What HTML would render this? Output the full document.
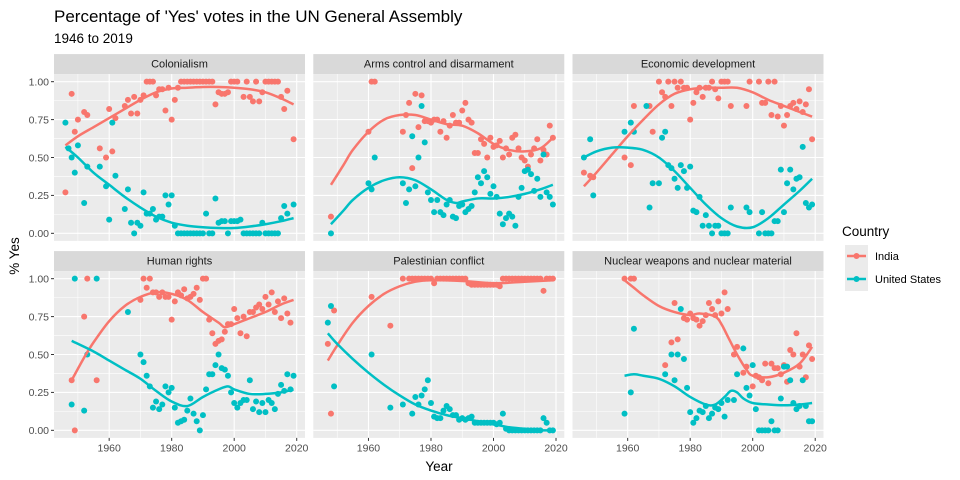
<!DOCTYPE html>
<html><head><meta charset="utf-8"><style>
body{margin:0;background:#fff;}
svg{display:block;font-family:"Liberation Sans",Arial,sans-serif;}
</style></head><body>
<svg id="chart" width="960" height="480" viewBox="0 0 960 480" xmlns="http://www.w3.org/2000/svg">
<text x="54" y="22" font-size="17" fill="#000">Percentage of 'Yes' votes in the UN General Assembly</text>
<text x="54" y="43" font-size="13.5" fill="#000">1946 to 2019</text>
<text transform="translate(19,256) rotate(-90)" text-anchor="middle" font-size="13.5" fill="#000">% Yes</text>
<text x="439" y="471" text-anchor="middle" font-size="13.5" fill="#000">Year</text>
<g id="panels"></g>
<g>
<text x="842" y="236" font-size="13.5" fill="#000">Country</text>
<rect x="845" y="245" width="23" height="46" fill="#ebebeb"/>
<g>
<line x1="847" y1="256" x2="866" y2="256" stroke="#F8766D" stroke-width="2.5"/><circle cx="856.5" cy="256" r="3" fill="#F8766D"/>
<text x="875" y="260" font-size="11" fill="#000">India</text></g>
<g>
<line x1="847" y1="279" x2="866" y2="279" stroke="#00BFC4" stroke-width="2.5"/><circle cx="856.5" cy="279" r="3" fill="#00BFC4"/>
<text x="875" y="283" font-size="11" fill="#000">United States</text></g>
</g>
</svg>
<script>
const panelTitles = ["Colonialism","Arms control and disarmament","Economic development","Human rights","Palestinian conflict","Nuclear weapons and nuclear material"];
const xTicks = [1960,1980,2000,2020];
const yTicks = [0,0.25,0.5,0.75,1];
const yTickLabels = ["0.00","0.25","0.50","0.75","1.00"];

const colIndia = [[1946,0.27],[1948,0.92],[1949,0.67],[1950,0.75],[1952,0.80],[1953,0.78],[1957,0.56],[1959,0.50],[1960,0.82],[1961,0.54],[1962,0.76],[1965,0.84],[1966,0.88],[1967,0.79],[1968,0.90],[1969,0.79],[1970,0.88],[1971,0.91],[1972,1],[1973,1],[1974,1],[1975,0.91],[1976,0.95],[1977,0.95],[1978,0.81],[1979,0.96],[1980,0.75],[1981,0.88],[1982,0.96],[1983,1],[1984,1],[1985,1],[1986,1],[1987,1],[1988,1],[1989,1],[1990,1],[1991,1],[1992,1],[1993,1],[1994,0.85],[1995,0.93],[1996,0.92],[1997,0.92],[1998,0.93],[1999,1],[2000,1],[2001,1],[2003,0.90],[2004,1],[2005,0.90],[2006,0.87],[2007,1],[2008,0.87],[2009,0.93],[2010,1],[2011,1],[2012,1],[2013,1],[2014,1],[2015,0.90],[2016,0.82],[2017,0.94],[2019,0.62]];
const colUS = [[1946,0.73],[1947,0.56],[1948,0.50],[1949,0.40],[1950,0.58],[1952,0.20],[1953,0.44],[1957,0.44],[1959,0.31],[1960,0.09],[1961,0.73],[1962,0.38],[1965,0.16],[1966,0.29],[1967,0.07],[1968,0],[1969,0.07],[1970,0.05],[1971,0.27],[1972,0.13],[1973,0.13],[1974,0.16],[1975,0.09],[1976,0.11],[1977,0.11],[1978,0.25],[1979,0.19],[1980,0.25],[1981,0.05],[1982,0],[1983,0],[1984,0],[1985,0],[1986,0],[1987,0],[1988,0],[1989,0],[1990,0],[1991,0.13],[1992,0],[1993,0],[1994,0.23],[1995,0.07],[1996,0.08],[1997,0.08],[1998,0],[1999,0.08],[2000,0.08],[2001,0.08],[2002,0.09],[2003,0],[2004,0],[2005,0],[2006,0],[2007,0],[2008,0],[2009,0.07],[2010,0],[2011,0],[2012,0],[2013,0],[2014,0],[2015,0.10],[2016,0.18],[2017,0.13],[2019,0.19]];
const colIndiaSmooth = [[1946,0.58],[1950,0.64],[1955,0.70],[1960,0.76],[1965,0.82],[1970,0.88],[1975,0.93],[1980,0.955],[1985,0.96],[1990,0.965],[1995,0.965],[2000,0.96],[2005,0.95],[2010,0.93],[2015,0.89],[2019,0.85]];
const colUSSmooth = [[1946,0.57],[1950,0.50],[1955,0.40],[1960,0.32],[1965,0.24],[1970,0.17],[1975,0.11],[1980,0.07],[1985,0.05],[1990,0.04],[1995,0.035],[2000,0.035],[2005,0.045],[2010,0.06],[2015,0.08],[2019,0.10]];

const armsIndia = [[1948,0.11],[1960,0.67],[1961,1],[1962,1],[1971,0.67],[1972,0.78],[1973,0.86],[1974,0.43],[1975,0.92],[1976,0.70],[1977,0.91],[1978,0.74],[1979,0.74],[1980,0.73],[1981,0.75],[1982,0.75],[1983,0.67],[1984,0.74],[1985,0.63],[1986,0.71],[1987,0.78],[1988,0.73],[1989,0.73],[1990,0.81],[1991,0.86],[1992,0.75],[1993,0.73],[1994,0.53],[1995,0.53],[1996,0.62],[1997,0.59],[1998,0.50],[1999,0.63],[2000,0.57],[2001,0.58],[2002,0.61],[2003,0.50],[2004,0.56],[2005,0.52],[2006,0.63],[2007,0.65],[2008,0.56],[2009,0.50],[2010,0.48],[2011,0.44],[2012,0.52],[2013,0.56],[2014,0.62],[2015,0.48],[2016,0.55],[2017,0.52],[2018,0.71],[2019,0.63]];
const armsUS = [[1948,0],[1960,0.33],[1961,0.29],[1962,0.50],[1971,0.33],[1972,0.20],[1973,0.29],[1974,0.64],[1975,0.31],[1976,0.50],[1977,0.84],[1978,0.60],[1979,0.27],[1980,0.22],[1981,0.14],[1982,0.22],[1983,0.14],[1984,0.12],[1985,0.19],[1986,0.22],[1987,0.11],[1988,0.10],[1989,0.18],[1990,0.19],[1991,0.14],[1992,0.16],[1993,0.18],[1994,0.27],[1995,0.37],[1996,0.33],[1997,0.41],[1998,0.37],[1999,0.26],[2000,0.31],[2001,0.24],[2002,0.13],[2003,0.06],[2004,0.10],[2005,0.13],[2006,0.11],[2007,0.05],[2008,0.24],[2009,0.30],[2010,0.41],[2011,0.42],[2012,0.39],[2013,0.28],[2014,0.36],[2015,0.24],[2016,0.52],[2017,0.27],[2018,0.24],[2019,0.19]];
const armsIndiaSmooth = [[1948,0.32],[1952,0.45],[1955,0.55],[1960,0.67],[1965,0.75],[1970,0.78],[1975,0.78],[1980,0.75],[1985,0.72],[1990,0.71],[1995,0.66],[2000,0.59],[2005,0.55],[2010,0.54],[2015,0.56],[2019,0.63]];
const armsUSSmooth = [[1948,0.06],[1952,0.15],[1955,0.22],[1960,0.30],[1965,0.35],[1970,0.37],[1975,0.35],[1980,0.29],[1985,0.22],[1988,0.20],[1990,0.21],[1995,0.23],[2000,0.23],[2005,0.24],[2010,0.26],[2015,0.29],[2019,0.32]];

const econIndia = [[1946,0.40],[1948,0.38],[1949,0.37],[1959,0.50],[1961,0.45],[1962,0.84],[1967,0.84],[1968,0.67],[1970,1],[1971,0.93],[1972,0.90],[1973,1],[1974,0.84],[1975,1],[1976,0.96],[1977,1],[1978,0.96],[1979,0.96],[1980,0.75],[1981,0.86],[1982,0.93],[1983,0.96],[1984,0.90],[1985,0.96],[1986,0.96],[1987,1],[1988,0.95],[1989,0.89],[1990,1],[1991,1],[1992,1],[1993,0.84],[1998,0.84],[1999,1],[2002,1],[2003,0.86],[2004,0.86],[2005,1],[2006,0.78],[2007,1],[2008,0.77],[2009,0.84],[2010,0.71],[2011,0.78],[2012,0.84],[2013,0.86],[2014,0.82],[2015,0.87],[2016,0.80],[2017,0.85],[2018,0.95],[2019,0.62]];
const econUS = [[1946,0.50],[1948,0.62],[1949,0.25],[1959,0.67],[1961,0.73],[1962,0.67],[1966,0.84],[1967,0.17],[1968,0.33],[1970,0.33],[1971,0.63],[1972,0.67],[1973,0.45],[1974,0.43],[1975,0.36],[1976,0.30],[1977,0.45],[1978,0.41],[1979,0.30],[1980,0.44],[1981,0.15],[1982,0.14],[1983,0.24],[1984,0.05],[1985,0.12],[1986,0.05],[1987,0],[1988,0.05],[1989,0.05],[1990,0],[1991,0],[1992,0],[1993,0.17],[1998,0.17],[1999,0.14],[2002,0],[2003,0.14],[2004,0],[2005,0],[2006,0],[2007,0.08],[2008,0.08],[2009,0.42],[2010,0.14],[2011,0.33],[2012,0.42],[2013,0.29],[2014,0.36],[2015,0.37],[2016,0.57],[2017,0.20],[2018,0.17],[2019,0.19]];
const econIndiaSmooth = [[1946,0.31],[1950,0.40],[1955,0.52],[1960,0.64],[1965,0.75],[1970,0.85],[1975,0.92],[1980,0.95],[1985,0.96],[1990,0.96],[1995,0.96],[2000,0.93],[2005,0.88],[2010,0.84],[2015,0.80],[2019,0.77]];
const econUSSmooth = [[1946,0.50],[1950,0.54],[1955,0.565],[1960,0.565],[1965,0.55],[1970,0.50],[1975,0.41],[1980,0.30],[1985,0.19],[1990,0.10],[1995,0.045],[2000,0.04],[2005,0.10],[2010,0.19],[2015,0.28],[2019,0.36]];

const humIndia = [[1948,0.33],[1949,0],[1952,0.75],[1953,1],[1956,0.33],[1970,0.86],[1971,1],[1972,0.94],[1973,1],[1974,0.91],[1975,0.91],[1976,0.88],[1977,0.91],[1978,0.88],[1979,0.88],[1980,0.73],[1981,0.85],[1982,0.91],[1983,0.89],[1984,0.93],[1985,0.87],[1986,0.88],[1987,0.90],[1988,0.94],[1989,0.86],[1990,1],[1991,1],[1992,0.73],[1993,0.64],[1994,0.57],[1995,0.59],[1996,0.60],[1997,0.65],[1998,0.70],[1999,0.70],[2000,0.80],[2001,0.74],[2002,0.64],[2003,0.75],[2004,0.62],[2005,0.78],[2006,0.78],[2007,0.81],[2008,0.83],[2009,0.80],[2010,0.88],[2011,0.83],[2012,0.91],[2013,0.78],[2014,0.85],[2015,0.74],[2016,0.87],[2017,0.77],[2018,0.71]];
const humUS = [[1948,0.17],[1949,1],[1952,0.13],[1953,0.50],[1956,1],[1966,0.78],[1970,0.50],[1971,0.45],[1972,0.36],[1973,0.29],[1974,0.15],[1975,0.19],[1976,0.14],[1977,0.17],[1978,0.29],[1979,0.25],[1980,0.28],[1981,0.15],[1982,0.05],[1983,0.06],[1984,0.07],[1985,0.13],[1986,0.21],[1987,0.11],[1988,0.06],[1989,0],[1990,0.10],[1991,0.27],[1992,0.37],[1993,0.37],[1994,0.43],[1995,0.50],[1996,0.41],[1997,0.40],[1998,0.36],[1999,0.25],[2000,0.18],[2001,0.15],[2002,0.18],[2003,0.20],[2004,0.20],[2005,0.33],[2006,0.14],[2007,0.19],[2008,0.12],[2009,0.18],[2010,0.12],[2011,0.20],[2012,0.18],[2013,0.14],[2014,0.24],[2015,0.30],[2016,0.26],[2017,0.37],[2018,0.27],[2019,0.36]];
const humIndiaSmooth = [[1948,0.33],[1952,0.48],[1955,0.58],[1960,0.72],[1965,0.82],[1970,0.88],[1975,0.91],[1980,0.90],[1985,0.86],[1990,0.78],[1995,0.71],[1997,0.68],[2000,0.70],[2005,0.74],[2010,0.78],[2015,0.83],[2019,0.86]];
const humUSSmooth = [[1948,0.59],[1955,0.52],[1960,0.46],[1965,0.40],[1970,0.34],[1975,0.26],[1980,0.19],[1985,0.16],[1990,0.22],[1995,0.27],[1998,0.29],[2000,0.27],[2005,0.24],[2010,0.24],[2015,0.25],[2019,0.27]];

const palIndia = [[1947,0.57],[1948,0.11],[1949,0.79],[1961,0.88],[1967,0.69],[1971,1],[1973,1],[1974,1],[1975,1],[1976,1],[1977,1],[1978,1],[1979,1],[1980,1],[1981,0.97],[1982,1],[1983,1],[1984,1],[1985,1],[1986,1],[1987,1],[1988,1],[1989,1],[1990,1],[1991,1],[1992,0.97],[1993,0.96],[1994,0.96],[1995,0.96],[1996,0.96],[1997,0.96],[1998,0.96],[1999,0.96],[2000,0.96],[2001,0.96],[2002,0.95],[2003,1],[2004,1],[2005,1],[2006,1],[2007,1],[2008,1],[2009,1],[2010,1],[2011,1],[2012,1],[2013,1],[2014,1],[2015,1],[2016,0.92],[2017,1],[2018,1],[2019,1]];
const palUS = [[1947,0.71],[1948,0.82],[1949,0.29],[1961,0.50],[1967,0.15],[1971,0.17],[1974,0.11],[1975,0.22],[1976,0.17],[1977,0.23],[1978,0.27],[1979,0.33],[1980,0.18],[1981,0.09],[1982,0.08],[1983,0.08],[1984,0.13],[1985,0.16],[1986,0.14],[1987,0.10],[1988,0.10],[1989,0.07],[1990,0.08],[1991,0.07],[1992,0.08],[1993,0.09],[1994,0.05],[1995,0.05],[1996,0.05],[1997,0.05],[1998,0.05],[1999,0.05],[2000,0.05],[2001,0.04],[2002,0.05],[2003,0.11],[2004,0.01],[2005,0],[2006,0],[2007,0],[2008,0],[2009,0],[2010,0],[2011,0],[2012,0],[2013,0],[2014,0],[2015,0],[2016,0.08],[2017,0.05],[2018,0],[2019,0]];
const palIndiaSmooth = [[1947,0.46],[1950,0.56],[1955,0.71],[1960,0.82],[1965,0.90],[1970,0.95],[1975,0.98],[1980,0.99],[1990,0.985],[2000,0.97],[2010,0.98],[2019,0.99]];
const palUSSmooth = [[1947,0.64],[1950,0.57],[1955,0.47],[1960,0.38],[1965,0.30],[1970,0.23],[1975,0.17],[1980,0.13],[1985,0.10],[1990,0.08],[1995,0.06],[2000,0.04],[2005,0.02],[2010,0.01],[2015,0.0],[2019,0.0]];

const nucIndia = [[1959,1],[1961,1],[1962,1],[1972,0.43],[1974,0.58],[1975,0.84],[1976,0.60],[1978,0.74],[1979,0.73],[1980,0.77],[1981,0.74],[1982,0.73],[1983,0.69],[1984,0.72],[1985,0.76],[1986,0.84],[1987,0.80],[1988,0.76],[1989,0.85],[1990,0.77],[1991,0.91],[1992,0.80],[1994,0.50],[1995,0.55],[1997,0.38],[1998,0.42],[2000,0.29],[2001,0.36],[2002,0.35],[2003,0.33],[2004,0.44],[2005,0.31],[2006,0.44],[2007,0.41],[2008,0.41],[2009,0.37],[2010,0.43],[2011,0.32],[2012,0.53],[2013,0.50],[2014,0.64],[2015,0.42],[2016,0.50],[2017,0.35],[2018,0.56],[2019,0.47]];
const nucUS = [[1959,0.11],[1961,0.25],[1962,0.67],[1972,0.37],[1974,0.50],[1975,0.33],[1976,0.50],[1977,0.80],[1978,0.47],[1979,0.28],[1980,0.12],[1981,0.05],[1982,0.08],[1983,0.13],[1984,0.12],[1985,0.16],[1986,0.08],[1987,0.11],[1988,0.15],[1989,0.14],[1990,0.18],[1991,0.09],[1992,0.20],[1994,0.20],[1995,0.37],[1997,0.54],[1998,0.28],[1999,0.23],[2000,0.43],[2001,0.14],[2002,0],[2003,0],[2004,0],[2005,0],[2006,0.06],[2007,0],[2008,0],[2009,0.21],[2010,0.42],[2011,0.42],[2012,0.33],[2013,0.18],[2014,0.14],[2015,0.16],[2016,0.33],[2017,0.16],[2018,0.06],[2019,0.06]];
const nucIndiaSmooth = [[1959,0.99],[1962,0.94],[1965,0.89],[1970,0.82],[1975,0.78],[1980,0.76],[1983,0.77],[1988,0.75],[1990,0.70],[1992,0.62],[1995,0.50],[1998,0.40],[2000,0.36],[2005,0.35],[2010,0.38],[2015,0.44],[2019,0.55]];
const nucUSSmooth = [[1959,0.36],[1962,0.37],[1965,0.36],[1970,0.34],[1975,0.29],[1980,0.22],[1985,0.17],[1988,0.17],[1991,0.22],[1993,0.26],[1995,0.25],[1997,0.21],[2000,0.18],[2005,0.17],[2010,0.165],[2015,0.17],[2019,0.18]];

const indiaPoints = [colIndia, armsIndia, econIndia, humIndia, palIndia, nucIndia];
const usPoints = [colUS, armsUS, econUS, humUS, palUS, nucUS];
const indiaSmooth = [colIndiaSmooth, armsIndiaSmooth, econIndiaSmooth, humIndiaSmooth, palIndiaSmooth, nucIndiaSmooth];
const usSmooth = [colUSSmooth, armsUSSmooth, econUSSmooth, humUSSmooth, palUSSmooth, nucUSSmooth];

const NS = "http://www.w3.org/2000/svg";
const panelLefts = [54, 313.3, 572.5];
const panelTops = [74.1, 271.1];
const PW = 251, PH = 166.8;
const X0 = 1942.35, X1 = 2022.65, Y0 = -0.05, Y1 = 1.05;
const IND = "#F8766D", USC = "#00BFC4";

function mk(tag, attrs, parent){ const e=document.createElementNS(NS,tag); for(const k in attrs) e.setAttribute(k,attrs[k]); parent.appendChild(e); return e; }
function slug(s){ return s.toLowerCase().replace(/[^a-z]+/g,'-').replace(/-$/,''); }

function smoothPath(pts, sx, sy){
  const p = pts.map(d=>[sx(d[0]), sy(d[1])]);
  let s = "M"+p[0][0].toFixed(2)+","+p[0][1].toFixed(2);
  for(let i=0;i<p.length-1;i++){
    const p0=p[i-1]||p[i], p1=p[i], p2=p[i+1], p3=p[i+2]||p[i+1];
    const c1=[p1[0]+(p2[0]-p0[0])/6, p1[1]+(p2[1]-p0[1])/6];
    const c2=[p2[0]-(p3[0]-p1[0])/6, p2[1]-(p3[1]-p1[1])/6];
    s+=" C"+c1.map(v=>v.toFixed(2)).join(",")+" "+c2.map(v=>v.toFixed(2)).join(",")+" "+p2[0].toFixed(2)+","+p2[1].toFixed(2);
  }
  return s;
}

const root = document.getElementById("panels");
panelTitles.forEach((title, i) => {
  const col = i % 3, row = Math.floor(i / 3);
  const L = panelLefts[col], T = panelTops[row];
  const sx = v => L + (v - X0) / (X1 - X0) * PW;
  const sy = v => T + PH - (v - Y0) / (Y1 - Y0) * PH;
  const g = mk("g", {}, root);
  
  
  const strip = mk("rect", {x:L, y:T-20, width:PW, height:20, fill:"#d9d9d9"}, g);
  
  
  const st = mk("text", {x:L+PW/2, y:T-6.5, "text-anchor":"middle", "font-size":"11", fill:"#1a1a1a"}, g);
  st.textContent = title;
  
  
  mk("rect", {x:L, y:T, width:PW, height:PH, fill:"#ebebeb"}, g);
  // minor grid
  for (let k=0;k<yTicks.length-1;k++){ const v=(yTicks[k]+yTicks[k+1])/2; mk("line",{x1:L,x2:L+PW,y1:sy(v),y2:sy(v),stroke:"#fff","stroke-width":0.55},g); }
  [1950,1970,1990,2010].forEach(v=>mk("line",{x1:sx(v),x2:sx(v),y1:T,y2:T+PH,stroke:"#fff","stroke-width":0.55},g));
  yTicks.forEach(v=>mk("line",{x1:L,x2:L+PW,y1:sy(v),y2:sy(v),stroke:"#fff","stroke-width":1.1},g));
  xTicks.forEach(v=>mk("line",{x1:sx(v),x2:sx(v),y1:T,y2:T+PH,stroke:"#fff","stroke-width":1.1},g));
  if (col === 0) {
    yTicks.forEach((v,k)=>{
      mk("line",{x1:L-3,x2:L,y1:sy(v),y2:sy(v),stroke:"#333","stroke-width":1},g);
      const t = mk("text",{x:L-5,y:sy(v)+3.8,"text-anchor":"end","font-size":"10.5",fill:"#4d4d4d"},g);
      t.textContent = yTickLabels[k];
      
      
    });
  }
  if (row === 1) {
    xTicks.forEach(v=>{
      mk("line",{x1:sx(v),x2:sx(v),y1:T+PH,y2:T+PH+3,stroke:"#333","stroke-width":1},g);
      const t = mk("text",{x:sx(v),y:T+PH+13.5,"text-anchor":"middle","font-size":"10.5",fill:"#4d4d4d"},g);
      t.textContent = String(v);
      
      
    });
  }
  [[indiaPoints[i], IND, 'india'], [usPoints[i], USC, 'us']].forEach(([pts, c, nm]) => {
    pts.forEach(d => {
      const ci = mk("circle", {cx:sx(d[0]), cy:sy(d[1]), r:3, fill:c}, g);
      
      
    });
  });
  [[indiaSmooth[i], IND, 'india'], [usSmooth[i], USC, 'us']].forEach(([pts, c, nm]) => {
    const p = mk("path", {d:smoothPath(pts, sx, sy), fill:"none", stroke:c, "stroke-width":2.5}, g);
    
    
  });
});
</script>
</body></html>
